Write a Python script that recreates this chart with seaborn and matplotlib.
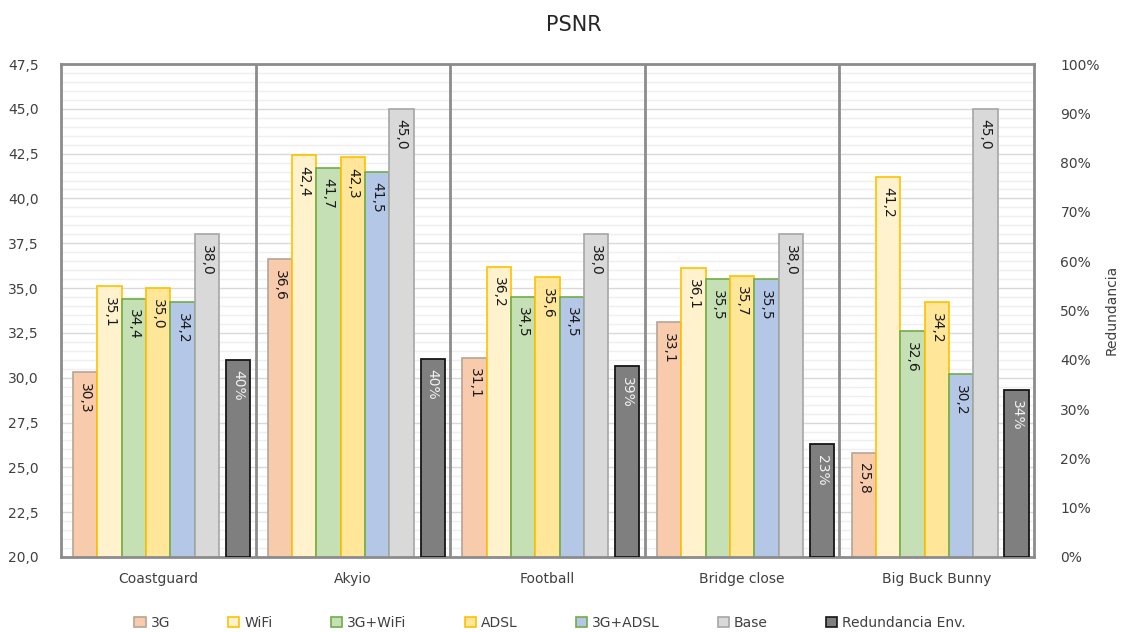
import matplotlib
matplotlib.use("Agg")
import matplotlib.pyplot as plt
from matplotlib.patches import Patch
from matplotlib.ticker import FuncFormatter, MultipleLocator
import seaborn as sns
import pandas as pd

# ---- data ----
videos = ["Coastguard", "Akyio", "Football", "Bridge close", "Big Buck Bunny"]
series = ["3G", "WiFi", "3G+WiFi", "ADSL", "3G+ADSL", "Base"]
psnr_3g = [30.3, 36.6, 31.1, 33.1, 25.8]
psnr_wifi = [35.1, 42.4, 36.2, 36.1, 41.2]
psnr_3g_wifi = [34.4, 41.7, 34.5, 35.5, 32.6]
psnr_adsl = [35.0, 42.3, 35.6, 35.7, 34.2]
psnr_3g_adsl = [34.2, 41.5, 34.5, 35.5, 30.2]
psnr_base = [38.0, 45.0, 38.0, 38.0, 45.0]
redundancia = [0.40, 0.402, 0.387, 0.229, 0.339]
red_name = "Redundancia Env."

fills = ["#F8CBAD", "#FFF2CC", "#C5E0B4", "#FFE699", "#B4C7E7", "#D9D9D9"]
edges = ["#B5A497", "#FFC000", "#70AD47", "#FFC000", "#70AD47", "#A6A6A6"]
red_fill = "#7F7F7F"
red_edge = "#161616"
txt = "#404040"

values = [psnr_3g, psnr_wifi, psnr_3g_wifi, psnr_adsl, psnr_3g_adsl, psnr_base]
df = pd.DataFrame(
    [(v, s, val) for s, vals in zip(series, values) for v, val in zip(videos, vals)],
    columns=["video", "serie", "psnr"],
)
df_red = pd.DataFrame({"video": videos, "red": redundancia})

sns.set_theme(style="white")
plt.rcParams["font.family"] = ["DejaVu Sans"]

fig = plt.figure(figsize=(11.25, 6.32), dpi=100)
ax = fig.add_axes([61 / 1125, 75 / 632, 973 / 1125, 493 / 632])

sns.barplot(data=df, x="video", y="psnr", hue="serie", hue_order=series,
            order=videos, palette=fills, width=0.75, errorbar=None,
            legend=False, ax=ax, linewidth=1.2, saturation=1)
for cont, ec in zip(ax.containers, edges):
    for p in cont.patches:
        p.set_x(p.get_x() - 0.0625)
        p.set_edgecolor(ec)
        p.set_linewidth(1.2)

ax.set_xlim(-0.5, len(videos) - 0.5)
ax.set_ylim(20, 47.5)
ax.yaxis.set_major_locator(MultipleLocator(2.5))
ax.yaxis.set_minor_locator(MultipleLocator(0.5))
ax.yaxis.set_major_formatter(FuncFormatter(lambda v, _: f"{v:.1f}".replace(".", ",")))
ax.set_axisbelow(True)
ax.yaxis.grid(True, which="major", color="#D9D9D9", lw=1.0, zorder=0.3)
ax.yaxis.grid(True, which="minor", color="#EFEFEF", lw=1.0, zorder=0.2)
ax.xaxis.grid(False)
for i in range(len(videos) - 1):
    ax.axvline(i + 0.5, color="#8C8C8C", lw=2.0, zorder=0.9)
ax.tick_params(axis="y", which="both", length=0, pad=16, labelsize=10, labelcolor=txt)
ax.tick_params(axis="x", which="both", length=0, pad=11, labelsize=10, labelcolor=txt)
ax.set_xlabel("")
ax.set_ylabel("")
for sp in ax.spines.values():
    sp.set_visible(True)
    sp.set_color("#8C8C8C")
    sp.set_linewidth(2.0)


def label_bars(axis, patches, fmt, color):
    for p in patches:
        axis.annotate(fmt(p.get_height()),
                      xy=(p.get_x() + p.get_width() / 2, p.get_height()),
                      xytext=(0, -7.5), textcoords="offset points",
                      rotation=-90, ha="center", va="top",
                      fontsize=10, color=color)


for cont in ax.containers:
    label_bars(ax, cont.patches, lambda h: f"{h:.1f}".replace(".", ","), "#1A1A1A")

ax2 = ax.twinx()
sns.barplot(data=df_red, x="video", y="red", order=videos, color=red_fill,
            width=0.125, errorbar=None, ax=ax2, saturation=1)
for p in ax2.containers[0].patches:
    p.set_x(p.get_x() + 0.41)
    p.set_facecolor(red_fill)
    p.set_edgecolor(red_edge)
    p.set_linewidth(1.3)
ax2.set_ylim(0, 1.0)
ax2.yaxis.set_major_locator(MultipleLocator(0.1))
ax2.yaxis.set_major_formatter(FuncFormatter(lambda v, _: f"{v * 100:.0f}%"))
ax2.tick_params(axis="y", length=0, pad=19, labelsize=10, labelcolor=txt)
ax2.set_xlim(-0.5, len(videos) - 0.5)
ax2.set_ylabel("")
ax2.set_xlabel("")
ax2.grid(False)
for sp in ax2.spines.values():
    sp.set_visible(False)
label_bars(ax2, ax2.containers[0].patches, lambda h: f"{h * 100:.0f}%", "#F2F2F2")

fig.text(574 / 1125, 1 - 25 / 632, "PSNR", ha="center", va="center",
         fontsize=15, color="#262626")
fig.text(1112 / 1125, 1 - 310 / 632, "Redundancia", rotation=90,
         ha="center", va="center", fontsize=10, color=txt)

handles = [Patch(facecolor=f, edgecolor=e, lw=1.2) for f, e in zip(fills, edges)]
handles.append(Patch(facecolor=red_fill, edgecolor=red_edge, lw=1.2))
labels = series + [red_name]
fig.legend(handles, labels, loc="center", bbox_to_anchor=(550 / 1125, 1 - 623 / 632),
           ncol=7, frameon=False, fontsize=10, handlelength=0.8, handleheight=0.8,
           handletextpad=0.35, columnspacing=4.2, labelcolor=txt)

fig.savefig("out.png", dpi=100)
